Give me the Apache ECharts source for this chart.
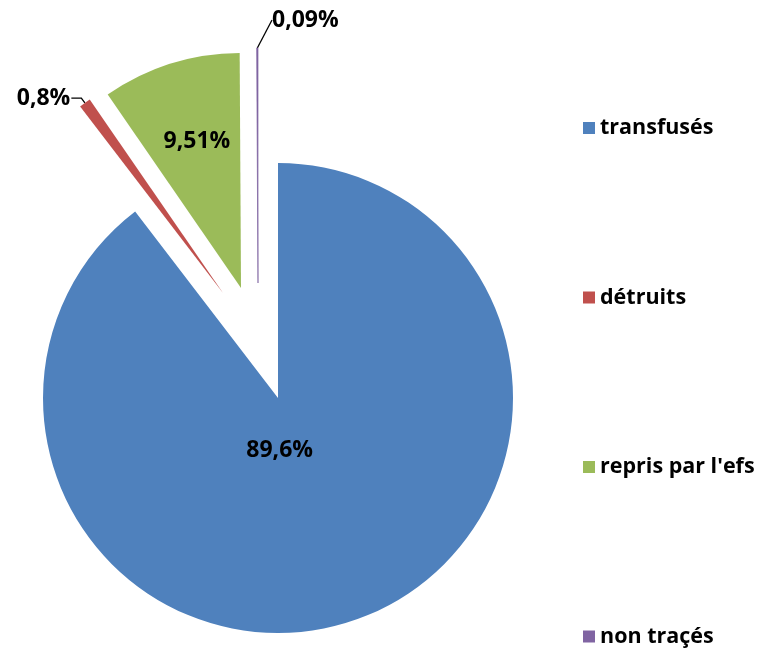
<!DOCTYPE html>
<html><head><meta charset="utf-8">
<script src="https://cdn.jsdelivr.net/npm/echarts@6/dist/echarts.min.js"></script>
<style>html,body{margin:0;padding:0;background:#fff}#c{width:760px;height:652px}</style>
</head><body><div id="c"></div>
<script>
const categories = ['transfusés', 'détruits', "repris par l'efs", 'non traçés'];
const values = [89.6, 0.8, 9.51, 0.09];
const valueLabels = ['89,6%', '0,8%', '9,51%', '0,09%'];
const colors = ['#4F81BD', '#C0504D', '#9BBB59', '#8064A2'];

const FONT = 'Open Sans';
const chart = echarts.init(document.getElementById('c'), null, {renderer: 'canvas'});

// each exploded slice drawn by its own pie (same data, other slices hidden)
const sliceLayout = [
  {center: [278, 398], label: {position: 'inside'}, labelLayout: {dx: -37, dy: -62}},
  {center: [223, 293], label: {position: 'outside', distanceToLabelLine: 1}, labelLine: {length: 6, length2: 10}},
  {center: [241, 288], label: {position: 'inside'}, labelLayout: {dx: -8, dy: -32}},
  {center: [258, 283], label: {position: 'outside'}, labelLine: {length: 12, length2: 0},
   labelLayout: {x: 272, y: 20, align: 'left', verticalAlign: 'middle'}, border: 0.7}
];

function makeSeries(k) {
  const cfg = sliceLayout[k];
  const s = {
    type: 'pie',
    center: cfg.center,
    radius: 235,
    startAngle: 90,
    clockwise: true,
    silent: true,
    animation: false,
    avoidLabelOverlap: false,
    emphasis: {disabled: true},
    data: categories.map((n, i) => ({
      name: n,
      value: values[i],
      itemStyle: {
        color: colors[i], opacity: i === k ? 1 : 0,
        borderColor: colors[i], borderWidth: (i === k && cfg.border) ? cfg.border : 0
      },
      label: {show: i === k},
      labelLine: {show: i === k && cfg.label.position === 'outside'}
    })),
    label: Object.assign({
      formatter: p => valueLabels[p.dataIndex],
      color: '#000',
      fontFamily: FONT,
      fontWeight: 'bold',
      fontSize: 23
    }, cfg.label),
    labelLine: Object.assign({
      lineStyle: {color: '#000', width: 1.3}
    }, cfg.labelLine || {})
  };
  if (cfg.labelLayout) s.labelLayout = cfg.labelLayout;
  return s;
}

chart.setOption({
  backgroundColor: '#fff',
  animation: false,
  legend: {
    orient: 'vertical',
    left: 583,
    top: 117,
    padding: 0,
    itemWidth: 12,
    itemHeight: 12,
    itemGap: 147.5,
    icon: 'rect',
    selectedMode: false,
    textStyle: {fontFamily: FONT, fontWeight: 'bold', fontSize: 21.5, color: '#000'},
    data: categories.map((n, i) => ({name: n, itemStyle: {color: colors[i], opacity: 1}}))
  },
  series: categories.map((_, k) => makeSeries(k))
});
</script>
</body></html>
